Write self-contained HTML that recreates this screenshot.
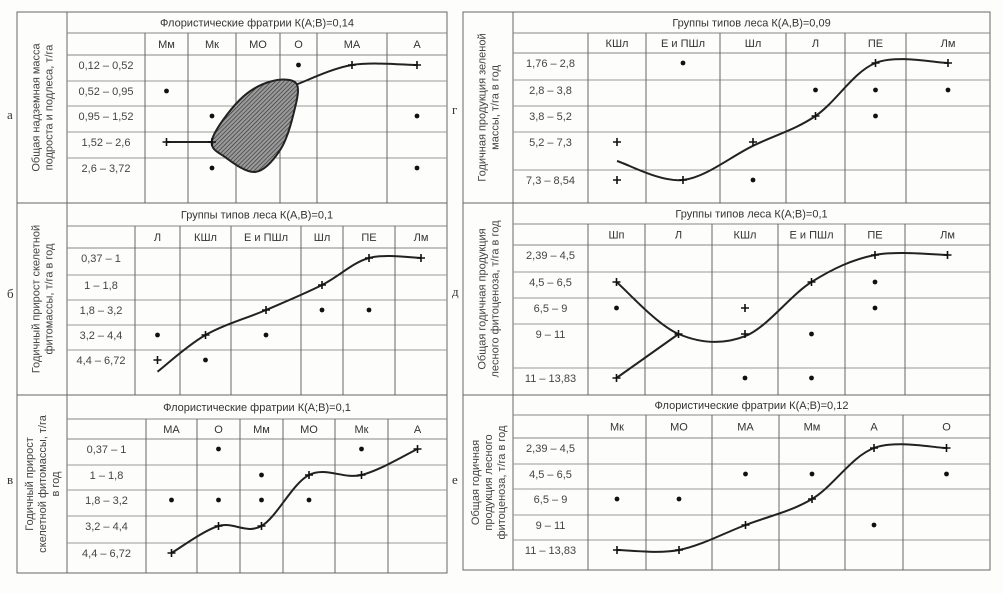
<!DOCTYPE html>
<html><head><meta charset="utf-8"><style>
body{margin:0;background:#fdfdfc;}
svg{display:block;font-family:"Liberation Sans",sans-serif;}
</style></head><body>
<svg id="fig" width="1003" height="594" viewBox="0 0 1003 594">
<defs><pattern id="hatch" width="3" height="3" patternUnits="userSpaceOnUse" patternTransform="rotate(45)"><rect width="3" height="3" fill="#9a9a9a"/><line x1="0" y1="0" x2="0" y2="3" stroke="#333" stroke-width="1.3"/></pattern></defs>
</svg>
<script>
// ---- data ----
const catsA=["Мм","Мк","МО","О","МА","А"];
const rowsA=["0,12 – 0,52","0,52 – 0,95","0,95 – 1,52","1,52 – 2,6","2,6 – 3,72"];
const plusA=[[0,3],[1,3],[4,0],[5,0]];
const dotsA=[[3,0],[0,1],[1,2],[5,2],[1,4],[5,4]];
const curveA1=[[0,3],[1,3]];
const curveA2=[[2.95,0.75],[4,0],[5,0]];
const blobA=[[1,2.92],[1.6,1.36],[2.3,0.64],[2.95,0.72],[2.87,1.96],[2.55,3.3],[1.95,4.15],[1.3,3.6]];

const catsB=["Л","КШл","Е и ПШл","Шл","ПЕ","Лм"];
const rowsB=["0,37 – 1","1 – 1,8","1,8 – 3,2","3,2 – 4,4","4,4 – 6,72"];
const plusB=[[0,4],[1,3],[2,2],[3,1],[4,0],[5,0]];
const dotsB=[[0,3],[1,4],[2,3],[3,2],[4,2]];
const curveB=[[0,4.45],[1,3],[2,2],[3,1],[4,0],[5,0]];

const catsV=["МА","О","Мм","МО","Мк","А"];
const rowsV=["0,37 – 1","1 – 1,8","1,8 – 3,2","3,2 – 4,4","4,4 – 6,72"];
const plusV=[[0,4],[1,3],[2,3],[3,1],[4,1],[5,0]];
const dotsV=[[1,0],[4,0],[2,1],[0,2],[1,2],[2,2],[3,2]];
const curveV=[[0,4],[1,3],[2,3],[3,1],[4,1],[5,0]];

const catsG=["КШл","Е и ПШл","Шл","Л","ПЕ","Лм"];
const rowsG=["1,76 – 2,8","2,8 – 3,8","3,8 – 5,2","5,2 – 7,3","7,3 – 8,54"];
const plusG=[[0,3],[0,4],[1,4],[2,3],[3,2],[4,0],[5,0]];
const dotsG=[[1,0],[3,1],[4,1],[5,1],[4,2],[2,4]];
const curveG=[[0,3.5],[1,4],[2,3.1],[3,2],[4,0],[5,0]];

const catsD=["Шп","Л","КШл","Е и ПШл","ПЕ","Лм"];
const rowsD=["2,39 – 4,5","4,5 – 6,5","6,5 – 9","9 – 11","11 – 13,83"];
const plusD=[[0,1],[0,4],[1,3],[2,2],[2,3],[3,1],[4,0],[5,0]];
const dotsD=[[0,2],[4,1],[4,2],[3,3],[2,4],[3,4]];
const curveD1=[[0,1],[1,3],[2,3.05],[3,1],[4,0],[5,0]];
const curveD2=[[0,4],[1,3]];

const catsE=["Мк","МО","МА","Мм","А","О"];
const rowsE=["2,39 – 4,5","4,5 – 6,5","6,5 – 9","9 – 11","11 – 13,83"];
const plusE=[[0,4],[1,4],[2,3],[3,2],[4,0],[5,0]];
const dotsE=[[2,1],[3,1],[5,1],[0,2],[1,2],[4,3]];
const curveE=[[0,4],[1,4],[2,3],[3,2],[4,0],[5,0]];

const svg=document.getElementById('fig');
const NS='http://www.w3.org/2000/svg';
function mk(tag,at,parent){const e=document.createElementNS(NS,tag);for(const k in at)e.setAttribute(k,at[k]);(parent||svg).appendChild(e);return e;}
function cr(pts,closed){
  const n=pts.length;let d='M'+pts[0][0]+','+pts[0][1];
  const P=i=>closed?pts[(i+n)%n]:pts[Math.max(0,Math.min(n-1,i))];
  const m=closed?n:n-1;
  for(let i=0;i<m;i++){const p0=P(i-1),p1=P(i),p2=P(i+1),p3=P(i+2);
    d+=' C'+(p1[0]+(p2[0]-p0[0])/6)+','+(p1[1]+(p2[1]-p0[1])/6)+' '+(p2[0]-(p3[0]-p1[0])/6)+','+(p2[1]-(p3[1]-p1[1])/6)+' '+p2[0]+','+p2[1];}
  return d+(closed?'Z':'');
}
function panel(cfg){
  const g=mk('g',{});
  
  
  const {x0,x1,y0,y1,lab,yl,cols,tb,hb,rl}=cfg;
  const L=(a,b,c,d,col,w)=>mk('line',{x1:a,y1:b,x2:c,y2:d,stroke:col||'#666','stroke-width':w||1},g);
  mk('rect',{x:x0,y:y0,width:x1-x0,height:y1-y0,fill:'none',stroke:'#666','stroke-width':1},g);
  L(lab,y0,lab,y1);
  L(lab,tb,x1,tb,'#888');L(lab,hb,x1,hb,'#888');
  rl.forEach(y=>L(lab,y,x1,y,'#999'));
  cols.forEach((c,i)=>{if(i>0&&i<cols.length-1)L(c,tb,c,y1,'#666');});
  L(cols[0],tb,cols[0],y1,'#666');
  const t=mk('text',{x:(lab+x1)/2,y:(y0+tb)/2+4,'text-anchor':'middle','font-size':11,fill:'#333'},g);t.textContent=cfg.title;
  
  
  const xc=c=>{const i=Math.floor(c),f=c-i;const ce=k=>(cols[Math.min(k,5)]+cols[Math.min(k,5)+1])/2;return i>=5?ce(5):ce(i)+f*(ce(i+1)-ce(i));};
  const tops=[hb].concat(rl);
  const ym=r=>{const tp=i=>i<tops.length?tops[i]+10:tops[tops.length-1]+10+26*(i-tops.length+1);const i=Math.floor(r),f=r-i;return tp(i)+f*(tp(i+1)-tp(i));};
  cfg.cats.forEach((c,i)=>{const e=mk('text',{x:xc(i),y:(tb+hb)/2+4,'text-anchor':'middle','font-size':11,fill:'#333'},g);e.textContent=c;
    
    });
  cfg.rows.forEach((r,i)=>{const e=mk('text',{x:(lab+yl)/2,y:tops[i]+14,'text-anchor':'middle','font-size':11,fill:'#444'},g);e.textContent=r;
    
    });
  const tx=(x0+lab)/2,ty=(y0+y1)/2;
  const yt=mk('text',{transform:`translate(${tx},${ty}) rotate(-90)`,'text-anchor':'middle','font-size':11,fill:'#444'},g);
  
  
  const n=cfg.ytitle.length;
  cfg.ytitle.forEach((s,i)=>{const ts=mk('tspan',{x:0,y:(i-(n-1)/2)*13+4},yt);ts.textContent=s;});
  const lt=mk('text',{x:cfg.letter[0],y:cfg.letter[1],'font-size':13,'font-family':'Liberation Serif, serif',fill:'#333'},svg);lt.textContent=cfg.lt;
  
  
  if(cfg.blob){const b=mk('path',{d:cr(cfg.blob.map(p=>[xc(p[0]),ym(p[1])]),true),fill:'url(#hatch)',stroke:'#222','stroke-width':2},g);
    
    }
  cfg.curves.forEach(cv=>{const p=mk('path',{d:cr(cv.map(p=>[xc(p[0]),ym(p[1])]),false),fill:'none',stroke:'#222','stroke-width':2},g);
    
    });
  cfg.plus.forEach(p=>{const x=xc(p[0]),y=ym(p[1]);const e=mk('path',{d:`M${x-4},${y}H${x+4}M${x},${y-4}V${y+4}`,stroke:'#111','stroke-width':1.6},g);
    
    });
  cfg.dots.forEach(p=>{const e=mk('circle',{cx:xc(p[0]),cy:ym(p[1]),r:2.4,fill:'#111'},g);
    
    });
}
panel({name:'panel-a',lt:'а',letter:[7,119],x0:17,x1:447,y0:12,y1:203,lab:67,yl:145,cols:[145,188,236,280,317,387,447],tb:33,hb:55,rl:[81,106,132,158],title:'Флористические фратрии К(А;В)=0,14',cats:catsA,rows:rowsA,plus:plusA,dots:dotsA,curves:[curveA1,curveA2],blob:blobA,ytitle:['Общая надземная масса','подроста и подлеса, т/га']});
panel({name:'panel-b',lt:'б',letter:[7,298],x0:17,x1:447,y0:203,y1:395,lab:67,yl:135,cols:[135,180,231,301,343,395,447],tb:226,hb:248,rl:[275,300,325,350],title:'Группы типов леса К(А,В)=0,1',cats:catsB,rows:rowsB,plus:plusB,dots:dotsB,curves:[curveB],ytitle:['Годичный прирост скелетной','фитомассы, т/га в год']});
panel({name:'panel-v',lt:'в',letter:[7,484],x0:17,x1:447,y0:395,y1:573,lab:67,yl:146,cols:[146,197,240,283,335,388,447],tb:419,hb:439,rl:[465,490,516,543],title:'Флористические фратрии К(А;В)=0,1',cats:catsV,rows:rowsV,plus:plusV,dots:dotsV,curves:[curveV],ytitle:['Годичный прирост','скелетной фитомассы, т/га','в год']});
panel({name:'panel-g',lt:'г',letter:[452,114],x0:463,x1:990,y0:12,y1:203,lab:513,yl:588,cols:[588,646,720,786,845,906,990],tb:33,hb:53,rl:[80,106,132,170],title:'Группы типов леса К(А,В)=0,09',cats:catsG,rows:rowsG,plus:plusG,dots:dotsG,curves:[curveG],ytitle:['Годичная продукция зеленой','массы, т/га в год']});
panel({name:'panel-d',lt:'д',letter:[452,296],x0:463,x1:990,y0:203,y1:395,lab:513,yl:588,cols:[588,645,712,778,845,905,990],tb:224,hb:245,rl:[272,298,324,368],title:'Группы типов леса К(А;В)=0,1',cats:catsD,rows:rowsD,plus:plusD,dots:dotsD,curves:[curveD1,curveD2],ytitle:['Общая годичная продукция','лесного фитоценоза, т/га в год']});
panel({name:'panel-e',lt:'е',letter:[452,484],x0:463,x1:990,y0:395,y1:570,lab:513,yl:588,cols:[588,646,712,779,845,903,990],tb:415,hb:438,rl:[464,489,515,540],title:'Флористические фратрии К(А;В)=0,12',cats:catsE,rows:rowsE,plus:plusE,dots:dotsE,curves:[curveE],ytitle:['Общая годичная','продукция лесного','фитоценоза, т/га в год']});
</script>
</body></html>
